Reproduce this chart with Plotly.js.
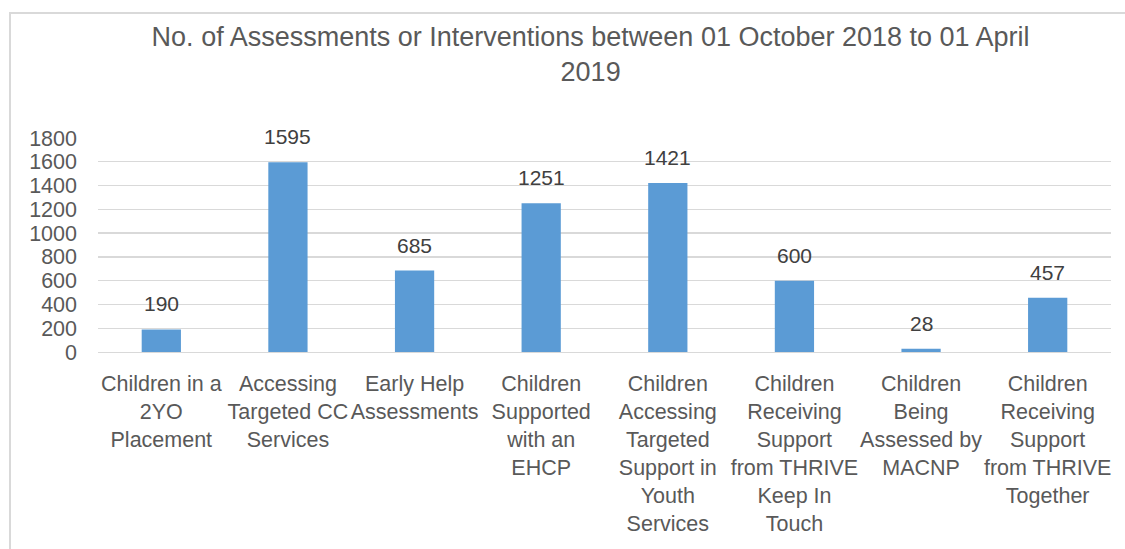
<!DOCTYPE html>
<html>
<head>
<meta charset="utf-8">
<script src="https://cdn.plot.ly/plotly-3.0.1.min.js"></script>
<style>
  html, body { margin: 0; padding: 0; background: #ffffff; }
  #frame { position: absolute; left: 9px; top: 12px; width: 1200px; height: 600px;
           border-left: 2px solid #d9d9d9; border-top: 2px solid #d9d9d9; box-sizing: border-box; }
  #chart { position: absolute; left: 0; top: 0; width: 1125px; height: 549px; }
</style>
</head>
<body>
<div id="frame"></div>
<div id="chart"></div>
<script>
const categories = [
  "Children in a<br>2YO<br>Placement",
  "Accessing<br>Targeted CC<br>Services",
  "Early Help<br>Assessments",
  "Children<br>Supported<br>with an<br>EHCP",
  "Children<br>Accessing<br>Targeted<br>Support in<br>Youth<br>Services",
  "Children<br>Receiving<br>Support<br>from THRIVE<br>Keep In<br>Touch",
  "Children<br>Being<br>Assessed by<br>MACNP",
  "Children<br>Receiving<br>Support<br>from THRIVE<br>Together"
];
const values = [190, 1595, 685, 1251, 1421, 600, 28, 457];
const yTicks = [0, 200, 400, 600, 800, 1000, 1200, 1400, 1600, 1800];
const titleText = "No. of Assessments or Interventions between 01 October 2018 to 01 April<br>2019";

const FONT = "Liberation Sans, Arial, sans-serif";

const trace = {
  type: "bar",
  x: categories,
  y: values,
  marker: { color: "#5b9bd5" },
  hoverinfo: "x+y"
};

const annotations = categories.map((c, i) => ({
  x: c, y: values[i], xref: "x", yref: "y",
  text: String(values[i]), showarrow: false,
  yanchor: "bottom", yshift: 12,
  font: { family: FONT, size: 21, color: "#404040" }
}));

const layout = {
  width: 1125, height: 549,
  margin: { l: 98, r: 14, t: 137.5, b: 197.3 },
  paper_bgcolor: "rgba(0,0,0,0)",
  plot_bgcolor: "rgba(0,0,0,0)",
  bargap: 0.69,
  showlegend: false,
  title: {
    text: titleText,
    x: 0.525, xanchor: "center",
    y: 0.917, yanchor: "top", yref: "container",
    font: { family: FONT, size: 27, color: "#595959" }
  },
  xaxis: {
    type: "category",
    showline: true, linecolor: "#d9d9d9", linewidth: 1.3,
    showgrid: false, ticks: "",
    ticklabelstandoff: 12,
    tickangle: 0,
    tickfont: { family: FONT, size: 21.5, color: "#595959" }
  },
  yaxis: {
    range: [0, 1800],
    tickvals: yTicks,
    ticktext: yTicks.map(String),
    showgrid: true, gridcolor: "#d9d9d9", gridwidth: 1.3,
    zeroline: false, showline: false, ticks: "",
    ticklabelstandoff: 20,
    tickfont: { family: FONT, size: 21.5, color: "#595959" }
  },
  annotations: annotations
};

Plotly.newPlot("chart", [trace], layout, { displayModeBar: false, staticPlot: true });
</script>
</body>
</html>
